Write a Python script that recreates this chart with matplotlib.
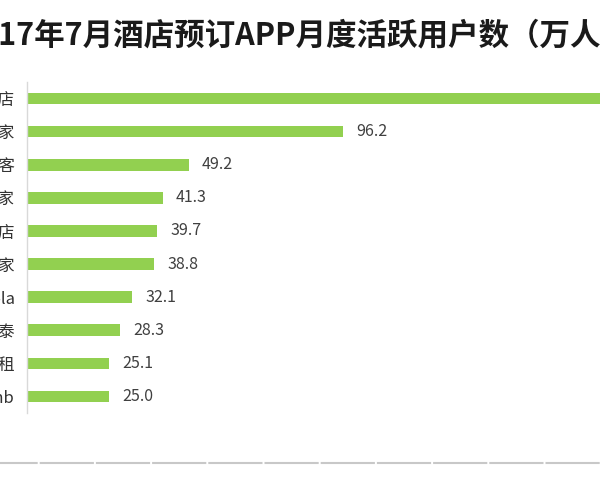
import matplotlib
matplotlib.use('Agg')
import matplotlib.pyplot as plt
from matplotlib.lines import Line2D

plt.rcParams['font.family'] = ['Noto Sans CJK SC', 'DejaVu Sans']
plt.rcParams['lines.scale_dashes'] = False

title = '2017年7月酒店预订APP月度活跃用户数（万人）'
apps = ['7天酒店', '途家', '自在客', '住百家', '华住酒店',
        '首旅如家', 'Shangri-la', '格林豪泰', '小猪短租', 'Airbnb']
users = [185.0, 96.2, 49.2, 41.3, 39.7, 38.8, 32.1, 28.3, 25.1, 25.0]

W, H = 600, 500
fig = plt.figure(figsize=(W / 100, H / 100), dpi=100)

# axes start at the gray axis line, run off the right edge like the source crop
x0, y_top, y_bot = 26.5, 82, 413
px_per_unit = 3.295
xmax = 200
ax = fig.add_axes([x0 / W, 1 - y_bot / H, xmax * px_per_unit / W, (y_bot - y_top) / H])

ypos = list(range(len(apps)))
ax.barh(ypos, users, height=0.35, color='#92D050', zorder=2)
ax.set_ylim(len(apps) - 0.5, -0.5)
ax.set_xlim(0, xmax)

for y, v in zip(ypos, users):
    ax.annotate(f'{v:.1f}', (v, y), xytext=(9.5, 0), textcoords='offset points',
                va='center', ha='left', fontsize=11.5, color='#404040')

ax.set_yticks(ypos)
ax.set_yticklabels(apps, fontsize=12, color='#333333')
ax.tick_params(axis='y', length=0, pad=8.5)
ax.set_xticks([])
for s in ['top', 'right', 'bottom']:
    ax.spines[s].set_visible(False)
ax.spines['left'].set_color('#d9d9d9')
ax.spines['left'].set_linewidth(1.0)

fig.text(-37 / W, 1 - 35 / H, title, ha='left', va='center',
         fontsize=22, fontweight='bold', color='#1a1a1a')

# light gray separator line near the bottom
sep = Line2D([0, 1], [1 - 463 / H, 1 - 463 / H], transform=fig.transFigure,
             color='#c8c8c8', linewidth=1.5)
sep.set_linestyle((16.5 * 0.72, (54.2 * 0.72, 2.0 * 0.72)))
fig.add_artist(sep)

fig.savefig('out.png', dpi=100)
